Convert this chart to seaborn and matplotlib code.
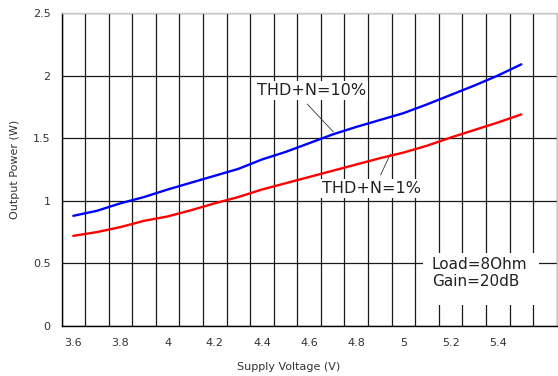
import numpy as np
import pandas as pd
import matplotlib
matplotlib.use("Agg")
import matplotlib.pyplot as plt
import seaborn as sns
from matplotlib.patches import Rectangle
from matplotlib.ticker import FixedLocator

# Data
voltage = [3.6, 3.7, 3.8, 3.9, 4.0, 4.1, 4.2, 4.3, 4.4, 4.5,
           4.6, 4.7, 4.8, 4.9, 5.0, 5.1, 5.2, 5.3, 5.4, 5.5]
thd_10 = [0.88, 0.92, 0.98, 1.03, 1.09, 1.145, 1.20, 1.255, 1.33, 1.39,
          1.46, 1.53, 1.59, 1.645, 1.70, 1.77, 1.845, 1.92, 2.0, 2.09]
thd_1 = [0.72, 0.75, 0.79, 0.84, 0.875, 0.925, 0.98, 1.03, 1.09, 1.14,
         1.19, 1.24, 1.29, 1.34, 1.385, 1.44, 1.505, 1.565, 1.625, 1.69]
x_tick_labels = ["3.6", "3.8", "4", "4.2", "4.4", "4.6", "4.8", "5", "5.2", "5.4"]
y_tick_labels = ["0", "0.5", "1", "1.5", "2", "2.5"]

df = pd.DataFrame({
    "Supply Voltage (V)": voltage * 2,
    "Output Power (W)": thd_10 + thd_1,
    "Curve": ["THD+N=10%"] * len(voltage) + ["THD+N=1%"] * len(voltage),
})

sns.set_theme(style="white")
plt.rcParams["font.family"] = ["DejaVu Sans"]

fig = plt.figure(figsize=(5.58, 3.76), dpi=100)
ax = fig.add_axes([61.5 / 558, 50 / 376, 495.2 / 558, 313 / 376])

sns.lineplot(
    data=df,
    x="Supply Voltage (V)",
    y="Output Power (W)",
    hue="Curve",
    palette={"THD+N=10%": "#0000ff", "THD+N=1%": "#ff0000"},
    linewidth=1.7,
    legend=False,
    ax=ax,
    zorder=4,
)

ax.set_xlim(3.55, 5.65)
ax.set_ylim(0, 2.5)

# major ticks carry labels, minor ticks carry the vertical grid
ax.set_xticks([float(t) for t in x_tick_labels], labels=x_tick_labels)
ax.xaxis.set_minor_locator(FixedLocator(np.arange(3.55, 5.66, 0.1)))
ax.set_yticks([float(t) for t in y_tick_labels], labels=y_tick_labels)

ax.grid(False)
ax.grid(which="minor", axis="x", color="#1a1a1a", linewidth=0.9)
ax.grid(which="major", axis="y", color="#1a1a1a", linewidth=0.9)
ax.set_axisbelow(True)

ax.tick_params(axis="both", which="both", length=0, labelsize=8, colors="#333333")
ax.tick_params(axis="x", pad=9)
ax.tick_params(axis="y", pad=8)

for side in ["left", "bottom"]:
    ax.spines[side].set_color("black")
    ax.spines[side].set_linewidth(1.0)
for side in ["top", "right"]:
    ax.spines[side].set_color("#c8c8c8")
    ax.spines[side].set_linewidth(1.0)

ax.set_xlabel("Supply Voltage (V)", fontsize=8, color="#333333")
ax.set_ylabel("Output Power (W)", fontsize=8, color="#333333")
ax.xaxis.set_label_coords(0.459, -0.115)
ax.yaxis.set_label_coords(-0.084, 0.5)

# curve labels with leader lines
ax.plot([4.592, 4.703], [1.773, 1.55], color="#333333", linewidth=0.6, zorder=3)
ax.text(4.38, 1.88, "THD+N=10%", fontsize=11.5, color="#222222", va="center",
        bbox=dict(facecolor="white", edgecolor="none", pad=1.5), zorder=5)

ax.plot([4.903, 4.945], [1.206, 1.374], color="#333333", linewidth=0.6, zorder=3)
ax.text(4.655, 1.10, "THD+N=1%", fontsize=11.5, color="#222222", va="center",
        bbox=dict(facecolor="white", edgecolor="none", pad=1.5), zorder=5)

# conditions box
ax.add_patch(Rectangle((5.085, 0.168), 0.488, 0.415, facecolor="white",
                       edgecolor="none", zorder=3))
ax.text(5.12, 0.423, "Load=8Ohm\nGain=20dB", fontsize=11, color="#222222",
        va="center", ha="left", linespacing=1.15, zorder=5)

fig.savefig("out.png", dpi=100)
